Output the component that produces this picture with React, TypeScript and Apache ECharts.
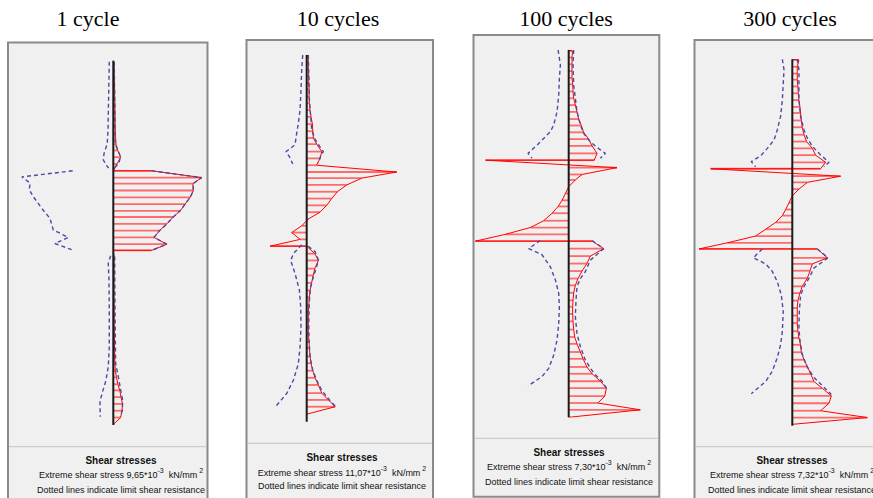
import React, { useEffect, useRef } from "react";
import * as echarts from "echarts";

// ---------- texts ----------
const panelTitles = ["1 cycle", "10 cycles", "100 cycles", "300 cycles"];
const extremeStress = ["9,65", "11,07", "7,30", "7,32"];
const captionTitle = "Shear stresses";
const captionNote = "Dotted lines indicate limit shear resistance";

// depth range of each wall (node levels, top = 0)
const depthRange = [53.6, 53.9, 54.0, 53.9];

// ---------- shear stress profiles [depth, stress (10^-3 kN/mm2)] ----------
const shear1 = [
  [0, 0], [0.5, 0.1], [1.5, 0.1], [2.5, 0.12], [3.4, 0.12], [4.4, 0.15], [5.4, 0.15], [6.4, 0.18], [7.4, 0.18],
  [8.3, 0.2], [9.3, 0.2], [10.3, 0.22], [11.3, 0.25], [12.3, 0.3], [13.2, 0.5], [14.2, 0.8], [15.2, 0.4],
  [16.2, 0], [16.2, 4.2], [17.2, 9.65], [18.1, 8.7], [19.1, 8.75], [20.1, 8.4], [21.1, 7.85], [22.1, 7.3],
  [23.0, 6.55], [24.0, 5.85], [25.0, 5.05], [26.0, 4.45], [27.0, 5.85], [27.9, 4.2], [27.9, 0],
  [28.9, 0.1], [29.9, 0.08], [30.9, 0.08], [31.9, 0.08], [32.8, 0.08], [33.8, 0.08], [34.8, 0.08],
  [35.8, 0.1], [36.8, 0.1], [37.7, 0.1], [38.7, 0.1], [39.7, 0.12], [40.7, 0.12], [41.7, 0.12], [42.7, 0.15],
  [43.6, 0.15], [44.6, 0.18], [45.6, 0.22], [46.6, 0.35], [47.6, 0.5], [48.5, 0.7], [49.5, 0.85], [50.5, 1.0],
  [51.5, 0.95], [52.5, 0.8], [53.4, 0.1], [53.6, 0],
];
const shear2 = [
  [0, 0], [0.15, 0.2], [1.1, 0.2], [2.1, 0.2], [3.1, 0.25], [4.1, 0.25], [5.05, 0.3], [6.1, 0.3], [7.1, 0.33],
  [8.1, 0.41], [9.1, 0.53], [10.15, 0.7], [11.2, 0.75], [12.2, 0.82], [13.1, 1.23], [14.2, 1.85], [15.2, 1.64],
  [16.2, 1.2], [17.2, 11.07], [18.1, 6.77], [19.1, 4.92], [20.1, 3.77], [21.1, 3.08], [22.1, 2.46], [23.1, 1.64],
  [24.1, 0.2], [25.1, -0.6], [26.1, -1.85], [27.1, -0.8], [28.1, -4.5], [28.1, 0],
  [29.2, 1.0], [30.2, 1.44], [31.4, 1.0], [32.4, 0.8], [33.5, 0.6], [34.6, 0.41], [35.6, 0.33], [36.8, 0.25],
  [37.75, 0.2], [38.9, 0.2], [40.0, 0.2], [41.0, 0.2], [42.2, 0.29], [43.1, 0.33], [44.3, 0.41], [45.3, 0.53],
  [46.4, 0.74], [47.45, 1.03], [48.5, 1.43], [49.7, 1.85], [50.7, 2.67], [51.7, 3.5], [52.8, 0],
];
const shear3 = [
  [0, 0], [0.15, 0.3], [1.1, 0.26], [2.1, 0.26], [3.1, 0.26], [4.1, 0.26], [5.05, 0.31], [6.1, 0.34], [7.1, 0.39],
  [8.1, 0.52], [9.1, 0.65], [10.15, 0.78], [11.1, 0.99], [12.1, 1.17], [13.1, 1.56], [14.1, 1.83], [15.2, 2.22],
  [16.2, 2.0], [16.2, -6.5], [17.3, 3.78], [18.3, 1.04], [19.1, 0.52], [20.1, 0], [21.1, -0.26], [22.1, -0.52],
  [23.0, -0.83], [24.0, -1.3], [25.1, -1.96], [26.1, -3.0], [27.1, -4.95], [28.1, -7.3], [28.1, 1.83],
  [29.2, 2.74], [30.3, 1.69], [31.4, 1.43], [32.5, 1.04], [33.6, 0.73], [34.6, 0.52], [35.7, 0.39], [36.8, 0.34],
  [37.75, 0.31], [38.8, 0.31], [39.9, 0.34], [41.1, 0.39], [42.2, 0.47], [43.2, 0.65], [44.4, 0.91], [45.4, 1.12],
  [46.6, 1.43], [47.6, 1.83], [48.7, 2.48], [49.7, 2.95], [50.9, 2.82], [51.9, 2.28], [52.9, 5.6], [54.0, 0],
];
const shear4 = [
  [0, 0], [0.1, 0.52], [1.1, 0.39], [2.1, 0.39], [3.0, 0.39], [4.0, 0.44], [5.0, 0.47], [6.0, 0.52], [7.0, 0.6],
  [7.9, 0.65], [9.0, 0.71], [10.0, 0.78], [11.1, 0.92], [12.1, 1.12], [13.1, 1.57], [14.1, 1.83], [15.15, 2.61],
  [16.1, 2.22], [16.1, -6.4], [17.2, 3.79], [18.1, 1.18], [19.1, 0.52], [20.1, 0], [21.1, -0.26], [22.1, -0.52],
  [23.0, -0.78], [24.0, -1.31], [25.0, -2.09], [26.0, -2.88], [27.0, -5.1], [27.9, -7.32], [27.9, 1.96],
  [29.2, 2.75], [30.1, 1.57], [31.1, 1.39], [32.2, 1.18], [33.4, 0.78], [34.4, 0.6], [35.5, 0.44], [36.6, 0.39],
  [37.7, 0.39], [38.8, 0.39], [40.0, 0.44], [41.0, 0.52], [42.0, 0.65], [43.1, 0.71], [44.2, 0.92], [45.2, 1.18],
  [46.3, 1.44], [47.4, 1.7], [48.4, 2.35], [49.5, 3.06], [50.6, 2.88], [51.7, 2.22], [52.7, 5.88], [53.7, 0],
];

// ---------- limit shear resistance (dotted), segments of [depth, stress] ----------
const limitLeft1 = [
  [[0.15, -0.44], [5.3, -0.51], [10.2, -0.58], [12.2, -0.66], [13.7, -1.02], [14.6, -1.09], [15.3, -0.8], [15.8, -0.51]],
  [[16.2, -4.44], [17.1, -10.0], [18.0, -9.1], [19.0, -9.18], [20.0, -8.74], [21.7, -7.83], [23.2, -6.92], [24.9, -6.56],
   [26.0, -4.92], [26.9, -6.38], [27.8, -4.55]],
  [[28.7, -0.29], [29.8, -0.55], [32.3, -0.47], [37.2, -0.44], [42.1, -0.44], [45.0, -0.55], [47.0, -0.8], [48.7, -1.17],
   [50.1, -1.46], [52.4, -1.42]],
];
const limitRight1 = [
  [[0.15, 0.1], [5.3, 0.15], [12.2, 0.2], [13.1, 0.45], [14.1, 0.8], [15.1, 0.6], [15.8, 0.1]],
  [[16.2, 4.2], [17.2, 9.65], [18.1, 8.7], [19.1, 8.75], [20.1, 8.4], [21.1, 7.85], [22.1, 7.3], [23.0, 6.55], [24.0, 5.85],
   [25.0, 5.05], [26.0, 4.45], [27.0, 5.85], [27.9, 4.2]],
  [[28.8, 0.15], [35, 0.18], [44.5, 0.25], [46.5, 0.55], [48.4, 0.8], [49.9, 1.02], [51.4, 1.0], [52.4, 0.75]],
];
const limitLeft2 = [
  [[0, -0.49], [2.2, -0.62], [5.15, -0.7], [8.1, -0.82], [10.05, -1.03], [11.5, -1.23], [13.2, -1.44], [14.2, -2.54],
   [14.95, -2.13], [16.0, -1.72]],
  [[27.9, -0.62], [29.2, -1.64], [30.2, -1.97], [32.1, -1.44], [34.56, -0.9], [37.0, -0.74], [39.95, -0.7], [42.9, -0.82],
   [45.4, -1.03], [47.8, -1.64], [49.75, -2.46], [51.6, -3.77]],
];
const limitRight2 = [
  [[0, 0.2], [6.6, 0.33], [11.0, 0.62], [12.4, 1.03], [13.5, 1.64], [14.2, 2.05], [14.85, 1.72], [15.9, 1.44]],
  [[28.1, 0.2], [28.9, 1.03], [30.15, 1.44], [31.4, 1.15], [32.6, 0.82], [34.1, 0.49], [36.0, 0.33], [39.5, 0.25],
   [41.9, 0.29], [44.4, 0.41], [46.3, 0.74], [47.8, 1.23], [49.3, 1.85], [50.8, 2.87], [51.6, 3.5]],
];
const limitLeft3 = [
  [[0, -0.83], [1.23, -0.73], [2.2, -0.65], [4.17, -0.73], [6.6, -0.78], [9.07, -0.91], [11.0, -1.17], [12.0, -1.43],
   [13.0, -1.96], [14.0, -2.48], [15.2, -3.18], [15.9, -2.87]],
  [[28.0, -2.22], [29.2, -3.13], [30.1, -2.09], [31.9, -1.43], [33.8, -1.04], [35.8, -0.78], [37.75, -0.73], [40.2, -0.78],
   [42.6, -0.91], [44.85, -1.17], [46.8, -1.56], [48.0, -2.09], [49.4, -3.18]],
];
const limitRight3 = [
  [[0, 0.39], [2.2, 0.34], [5.15, 0.39], [7.1, 0.52], [9.07, 0.65], [11.0, 0.91], [12.25, 1.17], [13.5, 1.69],
   [14.5, 2.35], [15.2, 2.87], [15.9, 2.48]],
  [[28.0, 1.83], [29.2, 2.74], [30.9, 1.69], [32.6, 1.3], [33.6, 0.91], [34.8, 0.65], [36.8, 0.57], [39.2, 0.52],
   [41.7, 0.65], [43.6, 0.91], [45.6, 1.3], [47.5, 1.96], [48.7, 2.61], [49.7, 2.95]],
];
const limitLeft4 = [
  [[0, -0.78], [1.57, -0.65], [3.53, -0.71], [6.0, -0.78], [8.4, -0.92], [10.4, -1.18], [11.9, -1.44], [13.1, -1.96],
   [14.2, -2.48], [15.05, -3.22], [15.8, -2.88]],
  [[27.9, -2.35], [29.2, -3.06], [30.1, -2.09], [31.2, -1.57], [32.7, -1.18], [34.7, -0.86], [37.1, -0.71], [40.0, -0.78],
   [42.0, -0.92], [43.9, -1.18], [45.9, -1.57], [47.4, -2.09], [49.2, -3.22]],
];
const limitRight4 = [
  [[0, 0.39], [1.57, 0.52], [6.0, 0.52], [8.4, 0.65], [10.4, 0.92], [11.6, 1.18], [12.8, 1.57], [14.07, 2.22],
   [15.15, 2.88], [15.8, 2.48]],
  [[27.9, 1.96], [29.2, 2.8], [30.0, 2.22], [30.7, 1.7], [32.2, 1.31], [33.4, 0.92], [34.7, 0.65], [37.1, 0.55],
   [39.5, 0.52], [41.4, 0.6], [43.4, 0.78], [45.3, 1.18], [46.8, 1.7], [48.0, 2.35], [49.3, 3.06]],
];

const shearProfiles = [shear1, shear2, shear3, shear4];
const limitLeft = [limitLeft1, limitLeft2, limitLeft3, limitLeft4];
const limitRight = [limitRight1, limitRight2, limitRight3, limitRight4];

// ---------- layout (pixels) ----------
const frames = [
  { axisX: 113.3, top: 60.7, bottom: 425, ppu: 9.15, box: [8, 42.5, 207.5, 520], sep: 446.7, cx: 121, titleX: 88, ty: [460, 475, 489.5] },
  { axisX: 306.7, top: 55, bottom: 421.7, ppu: 8.13, box: [246.5, 40, 433, 520], sep: 443.3, cx: 342, titleX: 338, ty: [457, 472.5, 486] },
  { axisX: 568.7, top: 50, bottom: 417.3, ppu: 12.78, box: [473.5, 35, 659.3, 496.7], sep: 438.3, cx: 569, titleX: 566, ty: [452, 467, 481.5] },
  { axisX: 792.3, top: 59.3, bottom: 425.7, ppu: 12.75, box: [694.5, 40, 910, 520], sep: 446.7, cx: 792, titleX: 790, ty: [460, 475, 489.5] },
];

const RED = "#ff0000";
const HATCH = "#ff6a6a";
const BLUE = "#4a4aa6";
const FONT = "Liberation Sans";

export default function App() {
  const ref = useRef<HTMLDivElement>(null);
  useEffect(() => {
    const chart = echarts.init(ref.current!, null, { renderer: "svg" });
    const grid: any[] = [];
    const xAxis: any[] = [];
    const yAxis: any[] = [];
    const series: any[] = [];
    const graphic: any[] = [];

    frames.forEach((f, i) => {
      const half = 100;
      grid.push({ left: f.axisX - half, top: f.top, width: half * 2, height: f.bottom - f.top, outerBoundsMode: "none", containLabel: false });
      const r = half / f.ppu;
      xAxis.push({ gridIndex: i, type: "value", min: -r, max: r, show: false });
      yAxis.push({ gridIndex: i, type: "value", min: 0, max: depthRange[i], inverse: true, show: false });

      const prof = shearProfiles[i].map(([d, s]) => [s, d]);
      series.push({
        type: "custom",
        xAxisIndex: i,
        yAxisIndex: i,
        z: 2,
        silent: true,
        encode: { x: 0, y: 1 },
        data: prof,
        renderItem: (_p: any, api: any) => {
          const a = api.coord([0, api.value(1)]);
          const b = api.coord([api.value(0), api.value(1)]);
          return { type: "line", shape: { x1: a[0], y1: a[1], x2: b[0], y2: b[1] }, style: { stroke: HATCH, lineWidth: 1.8 } };
        },
      });
      series.push({
        type: "line", xAxisIndex: i, yAxisIndex: i, z: 3, data: prof, showSymbol: false, silent: true,
        lineStyle: { color: RED, width: 1 },
      });
      [...limitLeft[i], ...limitRight[i]].forEach((seg) => {
        series.push({
          type: "line", xAxisIndex: i, yAxisIndex: i, z: 4, data: seg.map(([d, s]) => [s, d]), showSymbol: false, silent: true,
          lineStyle: { color: BLUE, width: 1.4, type: [4, 3] },
        });
      });
      series.push({
        type: "line", xAxisIndex: i, yAxisIndex: i, z: 5, data: [[0, 0], [0, depthRange[i]]], showSymbol: false, silent: true,
        lineStyle: { color: "#1a1a1a", width: 2 },
      });

      const [x0, y0, x1, y1] = f.box;
      graphic.push({ type: "rect", z: 0, shape: { x: x0, y: y0, width: x1 - x0, height: y1 - y0 }, style: { fill: "#f0f0f0", stroke: "#8a8a8a", lineWidth: 2 } });
      graphic.push({ type: "line", z: 1, shape: { x1: x0 + 1, y1: f.sep, x2: x1 - 1, y2: f.sep }, style: { stroke: "#c4c4c4", lineWidth: 1 } });
      graphic.push({
        type: "text", z: 1, x: f.titleX, y: 18,
        style: { text: panelTitles[i], fontFamily: "Liberation Serif", fontSize: 22, fill: "#000", align: "center", verticalAlign: "middle" },
      });
      graphic.push({
        type: "text", z: 1, x: f.cx, y: f.ty[0],
        style: { text: captionTitle, fontFamily: FONT, fontSize: 10, fontWeight: "bold", fill: "#111", align: "center", verticalAlign: "middle" },
      });
      graphic.push({
        type: "text", z: 1, x: f.cx, y: f.ty[1],
        style: {
          text: `{n|Extreme shear stress ${extremeStress[i]}*10}{s|-3}{n|  kN/mm}{s| 2}`,
          align: "center", verticalAlign: "middle", fill: "#111",
          rich: {
            n: { fontFamily: FONT, fontSize: 9, lineHeight: 16, fill: "#111" },
            s: { fontFamily: FONT, fontSize: 7, lineHeight: 9, verticalAlign: "top", fill: "#111" },
          },
        },
      });
      graphic.push({
        type: "text", z: 1, x: f.cx, y: f.ty[2],
        style: { text: captionNote, fontFamily: FONT, fontSize: 9, fill: "#111", align: "center", verticalAlign: "middle" },
      });
    });

    chart.setOption({
      animation: false,
      backgroundColor: "#ffffff",
      grid, xAxis, yAxis, series,
      graphic: { elements: graphic },
    });
    return () => chart.dispose();
  }, []);
  return <div ref={ref} style={{ position: "absolute", left: 0, top: 0, width: 873, height: 498 }} />;
}
